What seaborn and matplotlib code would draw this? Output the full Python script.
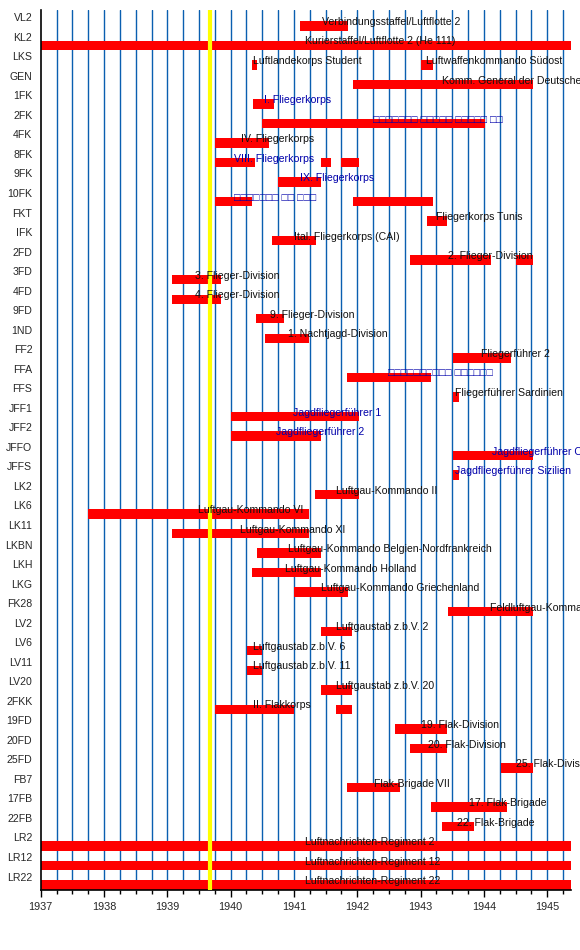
import seaborn as sns
import numpy as np
import matplotlib.pyplot as plt
from matplotlib.ticker import MultipleLocator

sns.set_theme(style="white")
plt.rcParams['font.family'] = ['Liberation Sans Narrow', 'Liberation Sans', 'DejaVu Sans']

# Zeilen (oben nach unten)
row_codes = ["VL2", "KL2", "LKS", "GEN", "1FK", "2FK", "4FK", "8FK", "9FK", "10FK",
             "FKT", "IFK", "2FD", "3FD", "4FD", "9FD", "1ND", "FF2", "FFA", "FFS",
             "JFF1", "JFF2", "JFFO", "JFFS", "LK2", "LK6", "LK11", "LKBN", "LKH", "LKG",
             "FK28", "LV2", "LV6", "LV11", "LV20", "2FKK", "19FD", "20FD", "25FD", "FB7",
             "17FB", "22FB", "LR2", "LR12", "LR22"]

# Balken: Zeile, Beginn, Ende (Jahr als Dezimalzahl)
seg_row = ["VL2", "KL2", "LKS", "LKS", "GEN", "1FK", "2FK", "4FK", "8FK", "8FK", "8FK",
           "9FK", "10FK", "10FK", "FKT", "IFK", "2FD", "2FD", "3FD", "4FD", "9FD", "1ND",
           "FF2", "FFA", "FFS", "JFF1", "JFF2", "JFFO", "JFFS", "LK2", "LK6", "LK11",
           "LKBN", "LKH", "LKG", "FK28", "LV2", "LV6", "LV11", "LV20", "2FKK", "2FKK",
           "19FD", "20FD", "25FD", "FB7", "17FB", "22FB", "LR2", "LR12", "LR22"]
seg_start = [1941.09, 1937.0, 1940.33, 1943.0, 1941.93, 1940.36, 1940.49, 1939.76, 1939.76, 1941.42, 1941.74,
             1940.75, 1939.76, 1941.93, 1943.1, 1940.66, 1942.84, 1944.5, 1939.08, 1939.08, 1940.4, 1940.54,
             1943.51, 1941.83, 1943.51, 1940.0, 1940.0, 1943.51, 1943.51, 1941.33, 1937.75, 1939.08,
             1940.41, 1940.33, 1941.0, 1943.43, 1941.42, 1940.26, 1940.26, 1941.42, 1939.76, 1941.67,
             1942.59, 1942.84, 1944.27, 1941.83, 1943.17, 1943.34, 1937.0, 1937.0, 1937.0]
seg_end = [1941.85, 1945.375, 1940.42, 1943.2, 1944.77, 1940.68, 1944.02, 1940.6, 1940.38, 1941.59, 1942.02,
           1941.43, 1940.34, 1943.2, 1943.42, 1941.34, 1944.11, 1944.77, 1939.84, 1939.84, 1940.85, 1941.23,
           1944.43, 1943.17, 1943.6, 1942.02, 1941.43, 1944.77, 1943.6, 1942.02, 1941.23, 1941.23,
           1941.43, 1941.43, 1941.85, 1944.77, 1941.92, 1940.5, 1940.5, 1941.92, 1941.0, 1941.92,
           1943.42, 1943.42, 1944.77, 1942.68, 1944.36, 1943.85, 1945.375, 1945.375, 1945.375]

# Beschriftungen: Zeile, x-Position, Text, blau?
lab_row = ["VL2", "KL2", "LKS", "LKS", "GEN", "1FK", "2FK", "4FK", "8FK", "9FK", "10FK",
           "FKT", "IFK", "2FD", "3FD", "4FD", "9FD", "1ND", "FF2", "FFA", "FFS",
           "JFF1", "JFF2", "JFFO", "JFFS", "LK2", "LK6", "LK11", "LKBN", "LKH", "LKG",
           "FK28", "LV2", "LV6", "LV11", "LV20", "2FKK", "19FD", "20FD", "25FD", "FB7",
           "17FB", "22FB", "LR2", "LR12", "LR22"]
lab_x = [1941.45, 1941.17, 1940.35, 1943.09, 1943.33, 1940.52, 1942.25, 1940.17, 1940.05, 1941.09, 1940.05,
         1943.25, 1941.0, 1943.44, 1939.44, 1939.44, 1940.62, 1940.9, 1943.96, 1942.49, 1943.54,
         1940.98, 1940.71, 1944.12, 1943.54, 1941.66, 1939.48, 1940.14, 1940.91, 1940.86, 1941.42,
         1944.1, 1941.67, 1940.36, 1940.36, 1941.67, 1940.36, 1943.01, 1943.12, 1944.5, 1942.26,
         1943.77, 1943.58, 1941.17, 1941.17, 1941.17]
lab_text = ["Verbindungsstaffel/Luftflotte 2", "Kurierstaffel/Luftflotte 2 (He 111)",
            "Luftlandekorps Student", "Luftwaffenkommando Südost",
            "Komm. General der Deutschen Luftwaffe in Italien", "I. Fliegerkorps",
            "□□□□□□□ □□□□□ □□□□□ □□", "IV. Fliegerkorps", "VIII. Fliegerkorps",
            "IX. Fliegerkorps", "□□□□□□□ □□ □□□", "Fliegerkorps Tunis",
            "Ital. Fliegerkorps (CAI)", "2. Flieger-Division", "3. Flieger-Division",
            "4. Flieger-Division", "9. Flieger-Division", "1. Nachtjagd-Division",
            "Fliegerführer 2", "□□□□□□□□□□ □□□□□□", "Fliegerführer Sardinien",
            "Jagdfliegerführer 1", "Jagdfliegerführer 2", "Jagdfliegerführer Ostmark",
            "Jagdfliegerführer Sizilien", "Luftgau-Kommando II", "Luftgau-Kommando VI",
            "Luftgau-Kommando XI", "Luftgau-Kommando Belgien-Nordfrankreich",
            "Luftgau-Kommando Holland", "Luftgau-Kommando Griechenland",
            "Feldluftgau-Kommando XXVIII", "Luftgaustab z.b.V. 2", "Luftgaustab z.b.V. 6",
            "Luftgaustab z.b.V. 11", "Luftgaustab z.b.V. 20", "II. Flakkorps",
            "19. Flak-Division", "20. Flak-Division", "25. Flak-Division", "Flak-Brigade VII",
            "17. Flak-Brigade", "22. Flak-Brigade", "Luftnachrichten-Regiment 2",
            "Luftnachrichten-Regiment 12", "Luftnachrichten-Regiment 22"]
lab_blue = ["1FK", "2FK", "8FK", "9FK", "10FK", "FFA", "JFF1", "JFF2", "JFFO", "JFFS"]

kriegsbeginn = 1939.67
years = list(range(1937, 1946))

idx = {c: i for i, c in enumerate(row_codes)}

fig = plt.figure(figsize=(5.8, 9.5), dpi=100)
ax = fig.add_axes([40.7 / 580, 60 / 950, (571 - 40.7) / 580, 880 / 950])

# Quartals-Gitter
for q in np.arange(1937.25, 1945.3, 0.25):
    ax.axvline(q, color="#0a5fb0", lw=1, zorder=1)

ys = [idx[r] for r in seg_row]
ax.barh(ys, np.array(seg_end) - np.array(seg_start), left=seg_start, height=0.48,
        color="#ff0000", edgecolor="none", zorder=2)

ax.axvline(kriegsbeginn, color="#ffff00", lw=3, zorder=3)

for r, x, t in zip(lab_row, lab_x, lab_text):
    c = "#0000aa" if r in lab_blue else "#111111"
    ax.text(x, idx[r] - 0.2, t, fontsize=7.6, color=c, va="center", ha="left",
            zorder=4, clip_on=False)

ax.set_xlim(1937, 1945.375)
ax.set_ylim(44.25, -0.81)
ax.set_yticks(np.arange(len(row_codes)) - 0.44)
ax.set_yticklabels(row_codes, fontsize=7.6)
ax.set_xticks(years)
ax.set_xticklabels([str(y) for y in years], fontsize=7.8)
ax.xaxis.set_minor_locator(MultipleLocator(0.25))
ax.tick_params(axis="x", which="major", length=5, width=1, color="black", direction="out",
               pad=4, bottom=True)
ax.tick_params(axis="x", which="minor", length=3, width=1, color="black", direction="out",
               bottom=True)
ax.tick_params(axis="y", length=0, pad=6)
sns.despine(ax=ax, top=True, right=True)
ax.spines["left"].set_color("black")
ax.spines["bottom"].set_color("black")
ax.spines["left"].set_linewidth(1.2)
ax.spines["bottom"].set_linewidth(1.2)

fig.savefig("out.png", dpi=100)
